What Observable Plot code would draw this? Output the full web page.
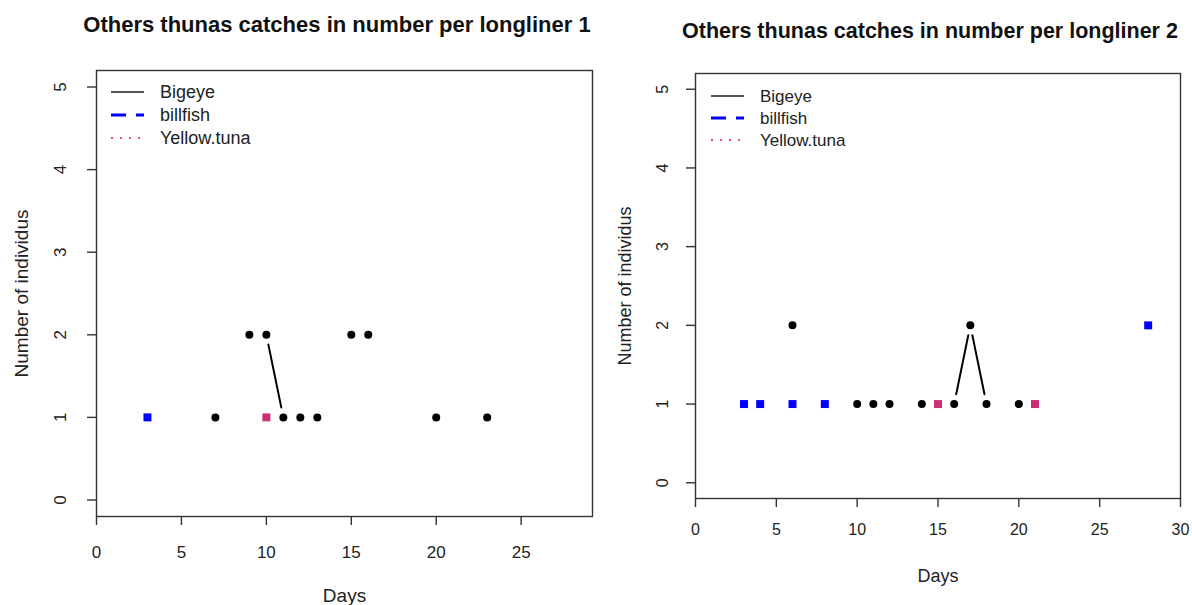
<!DOCTYPE html>
<html>
<head>
<meta charset="utf-8">
<script src="https://cdn.jsdelivr.net/npm/d3@7"></script>
<script src="https://cdn.jsdelivr.net/npm/@observablehq/plot@0.6"></script>
<style>
  body { margin: 0; background: #fff; font-family: "Liberation Sans", Arial, sans-serif; }
  #root { position: relative; width: 1192px; height: 605px; overflow: hidden; background: #fff; }
  .panel { position: absolute; top: 0; }
  .panel svg { position: absolute; left: 0; top: 0; overflow: visible; }
  .title { position: absolute; width: 600px; text-align: center; font-weight: bold; color: #111; white-space: nowrap; }
</style>
</head>
<body>
<div id="root"></div>
<script>
// ---- Data ----
const seriesNames = ["Bigeye", "billfish", "Yellow.tuna"];
const seriesColors = ["#000000", "#0000ff", "#cc2f74"];

// Longliner 1
const bigeyeDays1 = [7, 9, 10, 11, 12, 13, 15, 16, 20, 23];
const bigeyeCount1 = [1, 2, 2, 1, 1, 1, 2, 2, 1, 1];
const billfishDays1 = [3];
const billfishCount1 = [1];
const yellowDays1 = [10];
const yellowCount1 = [1];

// Longliner 2
const bigeyeDays2 = [6, 10, 11, 12, 14, 16, 17, 18, 20];
const bigeyeCount2 = [2, 1, 1, 1, 1, 1, 2, 1, 1];
const billfishDays2 = [3, 4, 6, 8, 28];
const billfishCount2 = [1, 1, 1, 1, 2];
const yellowDays2 = [15, 21];
const yellowCount2 = [1, 1];

const titles = ["Others thunas catches in number per longliner 1", "Others thunas catches in number per longliner 2"];
const xTicks1 = [0, 5, 10, 15, 20, 25];
const xTicks2 = [0, 5, 10, 15, 20, 25, 30];
const yTicks = [0, 1, 2, 3, 4, 5];

const toRows = (days, counts) => days.map((d, i) => ({day: d, n: counts[i]}));
// type = "b" style: line segments only between consecutive days whose counts differ
function segments(rows) {
  const out = [];
  for (let i = 1; i < rows.length; i++) {
    const a = rows[i - 1], b = rows[i];
    if (b.day - a.day === 1 && a.n !== b.n) out.push({x1: a.day, y1: a.n, x2: b.day, y2: b.n});
  }
  return out;
}

function panel(cfg) {
  const bigeye = toRows(cfg.bigeyeDays, cfg.bigeyeCount);
  const billfish = toRows(cfg.billfishDays, cfg.billfishCount);
  const yellow = toRows(cfg.yellowDays, cfg.yellowCount);
  const fs = cfg.fontSize;
  const chart = Plot.plot({
    width: cfg.width, height: 605,
    marginLeft: cfg.mL, marginRight: cfg.mR, marginTop: cfg.mT, marginBottom: cfg.mB,
    style: {fontFamily: "'Liberation Sans', Arial, sans-serif", fontSize: fs + "px", color: "#222", background: "transparent"},
    x: {domain: cfg.xDomain},
    y: {domain: [-0.2, 5.2]},
    marks: [
      Plot.frame({stroke: "#333", strokeWidth: 1.4}),
      Plot.axisX(cfg.xTicks, {tickSize: 9, tickPadding: cfg.xPad, stroke: "#333", strokeWidth: 1.4,
        tickFormat: "d", label: null, fontSize: fs}),
      Plot.axisX([], {label: "Days", labelAnchor: "center", labelOffset: cfg.xLabOff, labelArrow: "none", fontSize: cfg.labSize}),
      Plot.axisY(yTicks, {tickSize: 9, tickRotate: -90, tickPadding: cfg.yPad, stroke: "#333", strokeWidth: 1.4,
        tickFormat: "d", label: null, fontSize: fs}),
      Plot.axisY([], {label: "Number of individus", labelAnchor: "center", labelOffset: cfg.yLabOff, labelArrow: "none", fontSize: cfg.labSize}),
      Plot.arrow(segments(bigeye), {x1: "x1", y1: "y1", x2: "x2", y2: "y2", headLength: 0, inset: 10, stroke: "#000", strokeWidth: 2}),
      Plot.dot(bigeye, {x: "day", y: "n", r: 4, fill: seriesColors[0], symbol: "circle"}),
      Plot.dot(billfish, {x: "day", y: "n", r: 4.5, fill: seriesColors[1], symbol: "square"}),
      Plot.dot(yellow, {x: "day", y: "n", r: 4.5, fill: seriesColors[2], symbol: "square"})
    ]
  });
  const div = d3.select("#root").append("div").attr("class", "panel")
    .style("left", cfg.left + "px").style("width", cfg.width + "px").style("height", "605px");
  div.node().appendChild(chart);
  div.append("div").attr("class", "title").text(cfg.title)
    .style("left", (cfg.titleX - 300) + "px").style("top", (cfg.titleY - 13) + "px").style("font-size", cfg.titleSize + "px");
  // legend overlay
  const lg = div.append("svg").attr("width", cfg.width).attr("height", 605)
    .style("position", "absolute").style("left", 0).style("top", 0);
  const dashes = [null, "15,10", "2,7"];
  const widths = [2, 3, 2];
  const strokes = ["#555", seriesColors[1], "#e0508e"];
  seriesNames.forEach((name, i) => {
    const y = cfg.legY + i * cfg.legStep;
    lg.append("line").attr("x1", cfg.legX).attr("x2", cfg.legX + 33).attr("y1", y).attr("y2", y)
      .attr("stroke", strokes[i]).attr("stroke-width", widths[i]).attr("stroke-dasharray", dashes[i]);
    lg.append("text").attr("x", cfg.legX + 49).attr("y", y).attr("dy", "0.35em")
      .attr("font-size", cfg.legSize).attr("fill", "#222")
      .attr("font-family", "'Liberation Sans', Arial, sans-serif").text(name);
  });
}

panel({
  left: 0, width: 600, mL: 96, mR: 8, mT: 70, mB: 89,
  xDomain: [0, 29.2], xTicks: xTicks1, fontSize: 17, labSize: 19, xPad: 20, yPad: 22, xLabOff: 85, yLabOff: 82,
  bigeyeDays: bigeyeDays1, bigeyeCount: bigeyeCount1, billfishDays: billfishDays1, billfishCount: billfishCount1,
  yellowDays: yellowDays1, yellowCount: yellowCount1,
  title: titles[0], titleX: 337, titleY: 25, titleSize: 22,
  legX: 111, legY: 92, legStep: 23, legSize: 18
});
panel({
  left: 600, width: 592, mL: 95, mR: 12, mT: 73, mB: 107,
  xDomain: [0, 30], xTicks: xTicks2, fontSize: 16, labSize: 18, xPad: 16, yPad: 19, xLabOff: 83, yLabOff: 77,
  bigeyeDays: bigeyeDays2, bigeyeCount: bigeyeCount2, billfishDays: billfishDays2, billfishCount: billfishCount2,
  yellowDays: yellowDays2, yellowCount: yellowCount2,
  title: titles[1], titleX: 330, titleY: 32, titleSize: 21.5,
  legX: 111, legY: 96, legStep: 22, legSize: 17
});
</script>
</body>
</html>
